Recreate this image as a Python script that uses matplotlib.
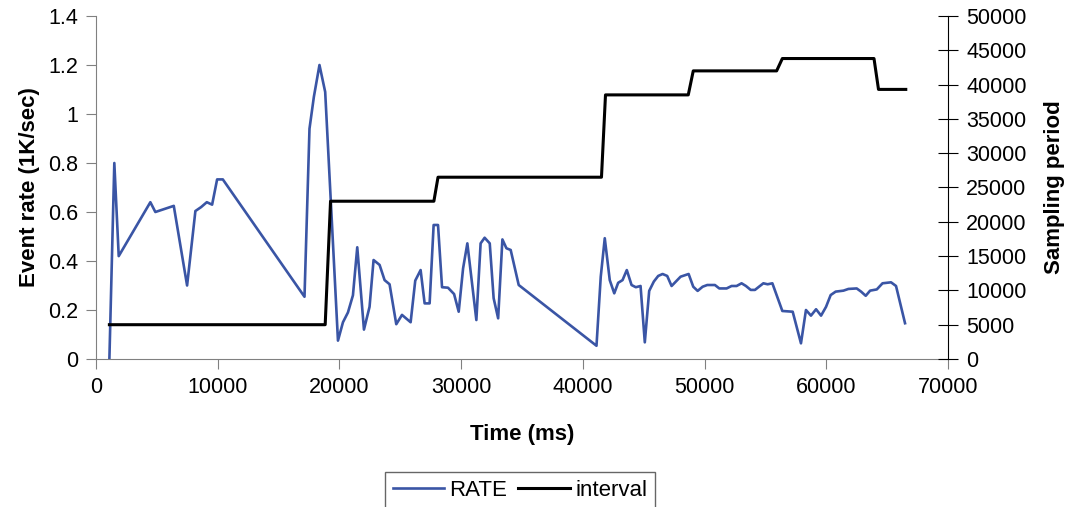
import matplotlib.pyplot as plt

plt.rcParams['font.family'] = ['Liberation Sans', 'DejaVu Sans']

# event rate samples (time in ms, rate in 1K events/sec)
rate_time = [1100, 1505, 1867, 4466, 4877, 6390, 7484, 8166, 8635, 9104, 9540, 9951, 10420,
             17130, 17540, 17900, 18360, 18830, 19880, 20290, 20700, 21110, 21465, 22015,
             22475, 22805, 23300, 23710, 24120, 24670, 25140, 25850, 26230, 26670, 27000,
             27410, 27740, 28100, 28430, 28920, 29420, 29800, 30160, 30510, 31250, 31600,
             31930, 32350, 32670, 33040, 33390, 33720, 34070, 34730, 41120, 41470, 41800,
             42210, 42580, 42900, 43260, 43610, 44000, 44350, 44740, 45090, 45450, 45830,
             46190, 46550, 46930, 47290, 47640, 48030, 48690, 49070, 49430, 49840, 50220,
             50850, 51210, 51810, 52220, 52630, 53040, 53400, 53790, 54140, 54470, 54830,
             55180, 55570, 56390, 57240, 57920, 58330, 58740, 59160, 59570, 59980, 60360,
             60770, 61410, 61820, 62500, 62860, 63240, 63600, 64150, 64620, 65320, 65730,
             66470]
rate = [0.0, 0.80, 0.42, 0.64, 0.60, 0.625, 0.30, 0.604, 0.62, 0.64, 0.63, 0.733, 0.733,
        0.254, 0.94, 1.07, 1.20, 1.09, 0.075, 0.15, 0.19, 0.26, 0.456, 0.12,
        0.213, 0.404, 0.384, 0.322, 0.305, 0.142, 0.18, 0.15, 0.32, 0.363, 0.227,
        0.227, 0.547, 0.547, 0.293, 0.291, 0.265, 0.193, 0.37, 0.472, 0.159, 0.472,
        0.495, 0.472, 0.248, 0.166, 0.488, 0.452, 0.445, 0.302, 0.054, 0.336, 0.493,
        0.322, 0.268, 0.311, 0.322, 0.363, 0.302, 0.293, 0.298, 0.068, 0.278, 0.316,
        0.339, 0.347, 0.339, 0.298, 0.316, 0.336, 0.347, 0.295, 0.278, 0.295, 0.302,
        0.302, 0.288, 0.288, 0.298, 0.298, 0.309, 0.298, 0.282, 0.282, 0.295, 0.309,
        0.305, 0.309, 0.196, 0.193, 0.064, 0.2, 0.177, 0.203, 0.177, 0.213, 0.261,
        0.275, 0.279, 0.286, 0.288, 0.275, 0.258, 0.279, 0.284, 0.309, 0.313, 0.298,
        0.146]

# sampling period changes
interval_time = [1100, 18830, 19270, 27760, 28100, 41530, 41860, 48660, 49070,
                 55920, 56390, 63920, 64290, 66530]
interval = [5000, 5000, 23000, 23000, 26500, 26500, 38500, 38500, 42000,
            42000, 43800, 43800, 39300, 39300]

fig = plt.figure(figsize=(10.69, 5.07), dpi=100)
ax = fig.add_axes([96/1069, 1 - 359/507, 852/1069, 343/507])
ax2 = ax.twinx()

l1, = ax.plot(rate_time, rate, color='#3a55a5', lw=1.9, label='RATE')
l2, = ax2.plot(interval_time, interval, color='black', lw=2.2, label='interval')

ax.set_xlim(0, 70000)
ax.set_ylim(0, 1.4)
ax2.set_ylim(0, 50000)
ax.set_xticks(range(0, 70001, 10000))
ax.set_yticks([0, 0.2, 0.4, 0.6, 0.8, 1, 1.2, 1.4])
ax.set_yticklabels(['0', '0.2', '0.4', '0.6', '0.8', '1', '1.2', '1.4'])
ax2.set_yticks(range(0, 50001, 5000))

for a in (ax, ax2):
    a.spines['top'].set_visible(False)
ax.spines['right'].set_visible(False)
ax2.spines['left'].set_visible(False)
ax2.spines['bottom'].set_visible(False)
ax.spines['left'].set_color('#808080')
ax.spines['bottom'].set_color('#808080')
ax2.spines['right'].set_color('black')

ax.tick_params(axis='both', labelsize=15.5, length=7, color='#808080', direction='out', pad=6)
ax2.tick_params(axis='y', labelsize=15.5, length=14, direction='inout', color='black', pad=6)

ax.set_xlabel('Time (ms)', fontsize=16, fontweight='bold')
ax.set_ylabel('Event rate (1K/sec)', fontsize=16, fontweight='bold')
ax2.set_ylabel('Sampling period', fontsize=16, fontweight='bold')
ax.xaxis.set_label_coords(0.5, -0.19)
ax.yaxis.set_label_coords(-0.066, 0.5)
ax2.yaxis.set_label_coords(1.113, 0.5)

fig.legend(handles=[l1, l2], loc='upper center', bbox_to_anchor=(520/1069, 1 - 472/507),
           ncol=2, fontsize=16, frameon=True, fancybox=False, edgecolor='#404040',
           handlelength=2.3, handletextpad=0.25, columnspacing=0.5,
           borderpad=0.35, borderaxespad=0)

fig.savefig('out.png', dpi=100)
